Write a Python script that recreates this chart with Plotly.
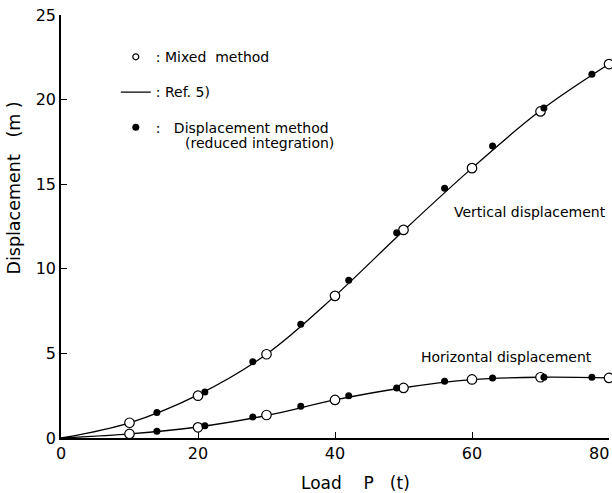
import plotly.graph_objects as go

# ---- data ----
mixed_P = [10, 20, 30, 40, 50, 60, 70, 80]
mixed_V = [0.9, 2.5, 4.95, 8.4, 12.3, 15.95, 19.3, 22.1]
mixed_H = [0.24, 0.63, 1.36, 2.25, 2.96, 3.46, 3.59, 3.55]

disp_P = [14, 21, 28, 35, 42, 49, 56, 63, 70.5, 77.5]
disp_V = [1.5, 2.72, 4.5, 6.73, 9.33, 12.13, 14.76, 17.26, 19.5, 21.5]
disp_H = [0.4, 0.73, 1.24, 1.88, 2.49, 2.96, 3.36, 3.55, 3.59, 3.59]

ref5_P = [0, 10, 20, 30, 40, 50, 60, 70, 80]
ref5_V = [0, 0.9, 2.55, 4.95, 8.4, 12.25, 15.95, 19.35, 22.1]
ref5_H = [0, 0.24, 0.65, 1.33, 2.25, 2.97, 3.45, 3.59, 3.55]

x_ticks = [0, 20, 40, 60, 80]
x_tick_labels = ["0", "20", "40", "60", ""]   # last label drawn as an edge-aligned annotation
x_last_label = "80"
y_ticks = [0, 5, 10, 15, 20, 25]

FONT = "DejaVu Sans"
NB = "\u00a0"
TXT = 14

fig = go.Figure()

line_style = dict(color="black", width=1.3, shape="spline", smoothing=1.0)
open_marker = dict(symbol="circle", size=9.5, color="white", line=dict(color="black", width=1.2))
fill_marker = dict(symbol="circle", size=7, color="black", line=dict(color="black", width=0))

for ys in (ref5_V, ref5_H):
    fig.add_trace(go.Scatter(x=ref5_P, y=ys, mode="lines", line=line_style,
                             showlegend=False, hoverinfo="skip", cliponaxis=False))
for ys in (mixed_V, mixed_H):
    fig.add_trace(go.Scatter(x=mixed_P, y=ys, mode="markers", marker=open_marker,
                             showlegend=False, cliponaxis=False))
for ys in (disp_V, disp_H):
    fig.add_trace(go.Scatter(x=disp_P, y=ys, mode="markers", marker=fill_marker,
                             showlegend=False, cliponaxis=False))

# legend-only entries
fig.add_trace(go.Scatter(x=[None], y=[None], mode="markers", name=":" + NB + "Mixed" + NB * 2 + "method",
                         marker=dict(symbol="circle", size=6, color="white", line=dict(color="black", width=1.2)),
                         legendgroup="a"))
fig.add_trace(go.Scatter(x=[None], y=[None], mode="lines", name=":" + NB + "Ref." + NB + "5)",
                         line=dict(color="black", width=1.3), legendgroup="b"))
fig.add_trace(go.Scatter(x=[None], y=[None], mode="markers", name=":" + NB * 3 + "Displacement" + NB + "method",
                         marker=dict(symbol="circle", size=7, color="black"), legendgroup="c"))

fig.update_layout(
    width=612, height=493,
    margin=dict(l=61, r=3, t=15, b=55, autoexpand=False),
    paper_bgcolor="white", plot_bgcolor="white",
    font=dict(family=FONT, color="black", size=TXT),
    showlegend=True,
    legend=dict(x=0.1, y=0.938, xanchor="left", yanchor="top", bgcolor="rgba(0,0,0,0)",
                font=dict(family=FONT, size=TXT), tracegroupgap=14, itemwidth=30),
    xaxis=dict(range=[0, 80], tickvals=x_ticks, ticktext=x_tick_labels, ticks="inside", ticklen=6,
               tickwidth=1.3, tickcolor="black", showline=True, linecolor="black", linewidth=1.5,
               showgrid=False, zeroline=False, tickfont=dict(size=16, family=FONT),
               ticklabeloverflow="allow", automargin=False),
    yaxis=dict(range=[0, 25], tickvals=y_ticks, ticks="inside", ticklen=6, tickwidth=1.3,
               tickcolor="black", showline=True, linecolor="black", linewidth=1.5,
               showgrid=False, zeroline=False, tickfont=dict(size=16, family=FONT),
               automargin=False),
)

fig.add_annotation(text=x_last_label, xref="paper", yref="paper",
                   x=1.0036, y=-0.0355, xanchor="right", yanchor="middle", showarrow=False,
                   font=dict(size=16, family=FONT))
fig.add_annotation(text="(reduced" + NB + "integration)", xref="paper", yref="paper",
                   x=0.2226, y=0.697, xanchor="left", yanchor="middle", showarrow=False,
                   font=dict(size=TXT, family=FONT))
fig.add_annotation(text="Vertical" + NB + "displacement", xref="x", yref="y",
                   x=68.4, y=13.36, xanchor="center", yanchor="middle", showarrow=False,
                   font=dict(size=TXT, family=FONT))
fig.add_annotation(text="Horizontal" + NB + "displacement", xref="x", yref="y",
                   x=65.0, y=4.79, xanchor="center", yanchor="middle", showarrow=False,
                   font=dict(size=TXT, family=FONT))
fig.add_annotation(text="Load" + NB * 4 + "P" + NB * 3 + "(t)", xref="paper", yref="paper",
                   x=0.5365, y=-0.1064, xanchor="center", yanchor="middle", showarrow=False,
                   font=dict(size=17, family=FONT))
fig.add_annotation(text="Displacement" + NB * 3 + "(m" + NB + ")", xref="paper", yref="paper",
                   x=-0.0858, y=0.592, xanchor="center", yanchor="middle", showarrow=False,
                   textangle=-90, font=dict(size=17.5, family=FONT))

fig.write_html("out.html")
